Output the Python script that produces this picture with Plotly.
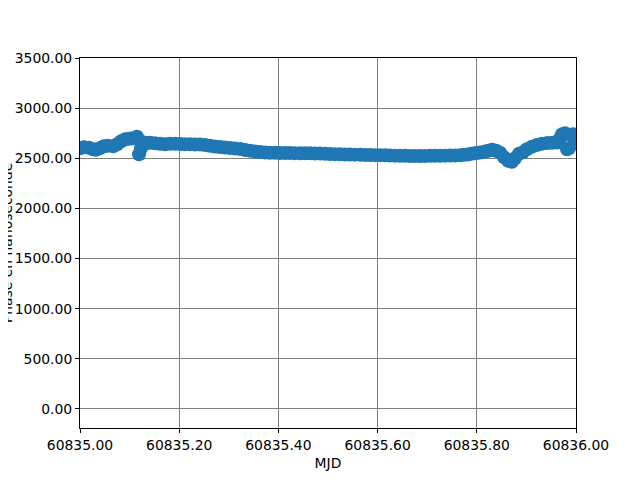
import plotly.graph_objects as go

# MJD offsets (days after 60835) and phase values (ns)
mjd_offset = [0.000, 0.008, 0.018, 0.026, 0.032, 0.040, 0.048, 0.056, 0.067, 0.075,
              0.083, 0.091, 0.099, 0.107, 0.115, 0.119, 0.123, 0.127, 0.133, 0.141,
              0.151, 0.161, 0.171, 0.181, 0.192, 0.202, 0.212, 0.222, 0.232, 0.242,
              0.252, 0.262, 0.272, 0.282, 0.292, 0.302, 0.312, 0.323, 0.333, 0.343,
              0.353, 0.363, 0.373, 0.383, 0.393, 0.403, 0.413, 0.423, 0.433, 0.444,
              0.454, 0.464, 0.474, 0.484, 0.494, 0.504, 0.514, 0.524, 0.534, 0.544,
              0.554, 0.565, 0.575, 0.585, 0.595, 0.605, 0.615, 0.625, 0.635, 0.645,
              0.655, 0.665, 0.675, 0.685, 0.695, 0.706, 0.716, 0.726, 0.736, 0.746,
              0.756, 0.766, 0.774, 0.782, 0.789, 0.796, 0.803, 0.810, 0.817, 0.823,
              0.831, 0.839, 0.847, 0.855, 0.863, 0.871, 0.877, 0.885, 0.893, 0.901,
              0.911, 0.921, 0.931, 0.942, 0.952, 0.962, 0.968, 0.972, 0.978, 0.982,
              0.986, 0.990, 0.994, 0.998, 1.000]
phase_ns = [2600, 2610, 2605, 2590, 2585, 2600, 2620, 2625, 2620, 2640,
            2670, 2690, 2695, 2700, 2715, 2540, 2600, 2660, 2650, 2655,
            2650, 2645, 2640, 2645, 2645, 2642, 2641, 2640, 2638, 2637,
            2632, 2625, 2618, 2612, 2607, 2603, 2598, 2592, 2583, 2575,
            2568, 2563, 2558, 2555, 2554, 2553, 2553, 2552, 2551, 2550,
            2550, 2549, 2548, 2547, 2545, 2543, 2541, 2540, 2538, 2537,
            2536, 2535, 2533, 2532, 2531, 2530, 2529, 2528, 2526, 2525,
            2524, 2523, 2523, 2523, 2523, 2524, 2524, 2525, 2526, 2527,
            2528, 2530, 2534, 2538, 2544, 2550, 2555, 2560, 2567, 2575,
            2585, 2575, 2555, 2510, 2475, 2465, 2500, 2545, 2560, 2590,
            2615, 2633, 2645, 2652, 2655, 2658, 2700, 2740, 2750, 2590,
            2600, 2730, 2740, 2725, 2690]

MJD0 = 60835.0
mjd = [MJD0 + d for d in mjd_offset]

x_ticks = [60835.0, 60835.2, 60835.4, 60835.6, 60835.8, 60836.0]
y_ticks = [0, 500, 1000, 1500, 2000, 2500, 3000, 3500]

font = dict(family="DejaVu Sans", size=13.9, color="black")

fig = go.Figure()
fig.add_trace(go.Scatter(
    x=mjd, y=phase_ns, mode="markers",
    marker=dict(color="#1f77b4", size=14, line=dict(width=0)),
    showlegend=False, hoverinfo="skip",
))

axis_common = dict(
    showline=True, linecolor="black", linewidth=1, mirror=True,
    ticks="outside", ticklen=4, tickwidth=1, tickcolor="black",
    showgrid=True, gridcolor="#808080", gridwidth=1,
    zeroline=False, tickfont=font, tickformat=".2f", automargin=False,
)

fig.update_layout(
    width=640, height=480,
    margin=dict(l=72, r=72, t=50, b=60),
    paper_bgcolor="white", plot_bgcolor="white",
    font=font,
    xaxis=dict(range=[60835.0, 60836.0], tickvals=x_ticks,
               title=dict(text="MJD", font=font, standoff=6), **axis_common),
    yaxis=dict(range=[-190, 3500], tickvals=y_ticks, **axis_common),
    annotations=[dict(
        text="Phase en nanoseconde", xref="paper", yref="paper",
        x=-0.147, y=0.5, xanchor="center", yanchor="middle",
        textangle=-90, showarrow=False, font=font,
    )],
)

fig.write_html("out.html")
